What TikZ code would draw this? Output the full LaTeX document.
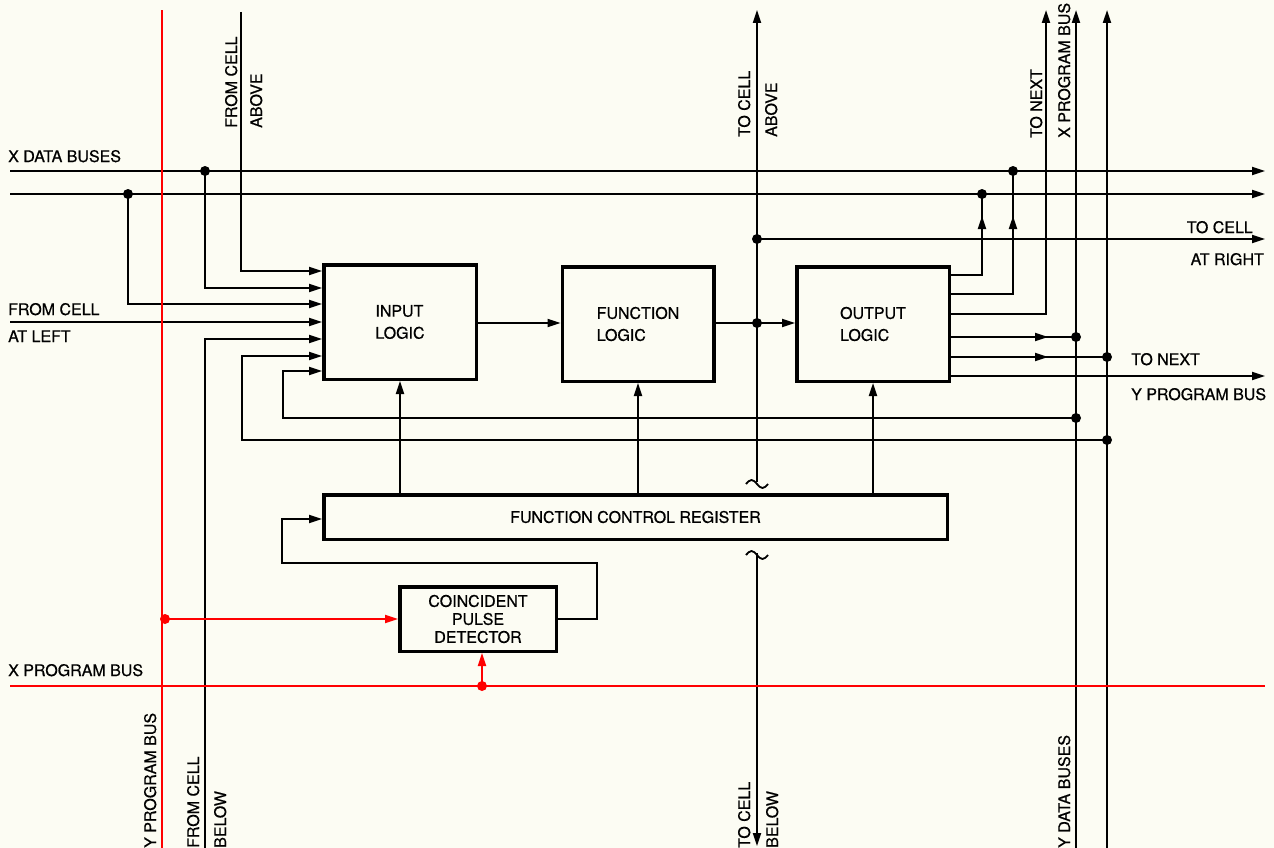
\documentclass[tikz,border=0pt]{standalone}
\usepackage{fontspec}
\setmainfont[FakeBold=0.6]{TeX Gyre Heros}
\usepackage{tikz}
\usetikzlibrary{arrows.meta,decorations.markings}

\begin{document}
\begin{tikzpicture}[x=1pt,y=-1pt,
		font=\fontsize{16}{22}\selectfont,
		>={Triangle[length=13pt,width=8pt]},
		wire/.style={line width=1.8pt},
		bus/.style={line width=1.8pt,red},
		blk/.style={draw,line width=3.5pt,align=left,inner sep=0pt},
		lbl/.style={inner sep=0pt},
		vlbl/.style={inner sep=0pt,rotate=90,anchor=base west},
		midtip/.style={postaction=decorate,decoration={markings,mark=at position #1 with {\arrow{>}}}}]
			% background
			\useasboundingbox (0,0) rectangle (1274,848);
			\fill[fill={rgb,255:red,252;green,252;blue,243}] (0,0) rectangle (1274,848);
			% blocks
			\node[blk,minimum width=152.5pt,minimum height=114.5pt] (inp) at (400,322) {INPUT\\LOGIC};
			\node[blk,minimum width=151.5pt,minimum height=114.5pt] (fun) at (638,324) {FUNCTION\\LOGIC};
			\node[blk,minimum width=152.5pt,minimum height=114.5pt] (out) at (873,324) {OUTPUT\\LOGIC};
			\node[blk,minimum width=623.5pt,minimum height=44.5pt] (fcr) at (635.5,517) {FUNCTION CONTROL REGISTER};
			\node[blk,align=center,font=\fontsize{16}{18}\selectfont,minimum width=156.5pt,minimum height=64.5pt] (cpd) at (478,619) {COINCIDENT\\PULSE\\DETECTOR};
			% bus ends
			\coordinate (xd1w) at (10,171);
			\coordinate (xd1e) at (1265,171);
			\coordinate (xd2w) at (10,194);
			\coordinate (xd2e) at (1265,194);
			\coordinate (leftin) at (10,322);
			\coordinate (rightout) at (1265,239);
			\coordinate (ynext) at (1265,376);
			\coordinate (xnext) at (1046,10);
			\coordinate (yd1t) at (1076,10);
			\coordinate (yd1b) at (1076,848);
			\coordinate (yd2t) at (1107,10);
			\coordinate (yd2b) at (1107,848);
			\coordinate (abovein) at (241,12);
			\coordinate (belowin) at (205,848);
			\coordinate (aboveout) at (757,10);
			\coordinate (belowout) at (757,846);
			\coordinate (brk1) at (757,482);
			\coordinate (brk2) at (757,553);
			\coordinate (ypt) at (162,10);
			\coordinate (ypb) at (162,848);
			\coordinate (xpw) at (10,686);
			\coordinate (xpe) at (1265,686);
			% junctions
			\coordinate (t1) at (205,171);
			\coordinate (t2) at (128,194);
			\coordinate (o1) at (982,194);
			\coordinate (o2) at (1013,171);
			\coordinate (c1) at (757,239);
			\coordinate (c2) at (757,323);
			\coordinate (p1) at (1076,337);
			\coordinate (p2) at (1107,357);
			\coordinate (f1) at (1076,418);
			\coordinate (f2) at (1107,440);
			\coordinate (r1) at (165,619);
			\coordinate (r2) at (482,686);
			% x data buses
			\draw[wire,->] (xd1w) -- (xd1e);
			\draw[wire,->] (xd2w) -- (xd2e);
			% y data buses
			\draw[wire,->] (yd1b) -- (yd1t);
			\draw[wire,->] (yd2b) -- (yd2t);
			% inputs
			\draw[wire,->] (abovein) |- (inp.west |- 0,271);
			\draw[wire,->] (t1) |- (inp.west |- 0,288);
			\draw[wire,->] (t2) |- (inp.west |- 0,304);
			\draw[wire,->] (leftin) -- (inp.west |- leftin);
			\draw[wire,->] (belowin) |- (inp.west |- 0,339);
			\draw[wire,->] (f2) -| (242,356) -- (inp.west |- 0,356);
			\draw[wire,->] (f1) -| (283,371) -- (inp.west |- 0,371);
			% logic chain
			\draw[wire,->] (inp.east |- 0,323) -- (fun.west |- 0,323);
			\draw[wire,->] (fun.east |- 0,323) -- (out.west |- 0,323);
			% to cell above / below
			\draw[wire,->] (brk1) -- (aboveout);
			\draw[wire] (brk1) ++(-11,2) sin ++(5.5,-4) cos ++(5.5,4) sin ++(5.5,4) cos ++(5.5,-4);
			\draw[wire,->] (brk2) -- (belowout);
			\draw[wire] (brk2) ++(-11,2) sin ++(5.5,-4) cos ++(5.5,4) sin ++(5.5,4) cos ++(5.5,-4);
			\draw[wire,->] (c1) -- (rightout);
			% outputs
			\draw[wire,midtip=-22pt] (out.east |- 0,275) -| (o1);
			\draw[wire,midtip=-45pt] (out.east |- 0,294) -| (o2);
			\draw[wire,->] (out.east |- 0,314) -| (xnext);
			\draw[wire,midtip=-28pt] (out.east |- 0,337) -- (p1);
			\draw[wire,midtip=-59pt] (out.east |- 0,357) -- (p2);
			\draw[wire,->] (out.east |- 0,376) -- (ynext);
			% control register
			\draw[wire,->] (fcr.north -| inp) -- (inp.south);
			\draw[wire,->] (fcr.north -| fun) -- (fun.south);
			\draw[wire,->] (fcr.north -| out) -- (out.south);
			\draw[wire,->] (cpd.east) -| (597,563) -| (282,519) -- (fcr.west |- 0,519);
			% program buses
			\draw[bus] (ypb) -- (ypt);
			\draw[bus] (xpw) -- (xpe);
			\draw[bus,->] (r1) -- (cpd.west |- r1);
			\draw[bus,->] (r2) -- (r2 |- cpd.south);
			% dots
			\foreach \d in {t1,t2,o1,o2,c1,c2,p1,p2,f1,f2}
				\fill (\d) circle (5pt);
			\fill[red] (r1) circle (5pt);
			\fill[red] (r2) circle (5pt);
			% labels
			\node[lbl,anchor=base west] (xdb) at (8,162) {X DATA BUSES};
			\node[lbl,anchor=base west] (fcl1) at (8,315) {FROM CELL};
			\node[lbl,anchor=base west] (fcl2) at (8,342) {AT LEFT};
			\node[lbl,anchor=base west] (xpb) at (8,676) {X PROGRAM BUS};
			\node[lbl,anchor=base east] (tcr1) at (1253,233) {TO CELL};
			\node[lbl,anchor=base east] (tcr2) at (1264,265) {AT RIGHT};
			\node[lbl,anchor=base west] (tny1) at (1131,365) {TO NEXT};
			\node[lbl,anchor=base west] (tny2) at (1131,400) {Y PROGRAM BUS};
			\node[vlbl] (fca1) at (237,128) {FROM CELL};
			\node[vlbl] (fca2) at (262,128) {ABOVE};
			\node[vlbl] (tca1) at (750,137) {TO CELL};
			\node[vlbl] (tca2) at (777,137) {ABOVE};
			\node[vlbl] (tnx1) at (1042,138) {TO NEXT};
			\node[vlbl] (tnx2) at (1070,138) {X PROGRAM BUS};
			\node[vlbl] (ypbl) at (156,848) {Y PROGRAM BUS};
			\node[vlbl] (fcb1) at (199,848) {FROM CELL};
			\node[vlbl] (fcb2) at (226,848) {BELOW};
			\node[vlbl] (tcb1) at (750,848) {TO CELL};
			\node[vlbl] (tcb2) at (778,848) {BELOW};
			\node[vlbl] (ydb) at (1070,848) {Y DATA BUSES};
		\end{tikzpicture}
\end{document}
